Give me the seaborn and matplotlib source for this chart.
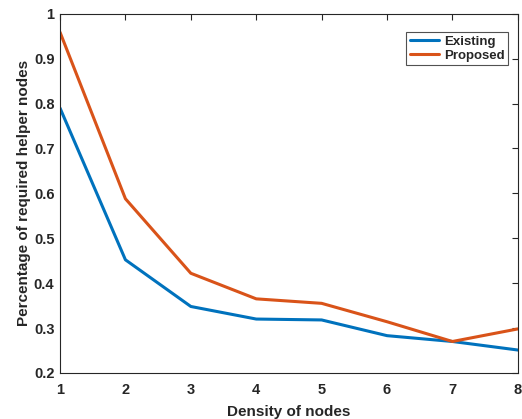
import matplotlib
matplotlib.use("Agg")
import matplotlib.pyplot as plt
import seaborn as sns
import pandas as pd

density = [1, 2, 3, 4, 5, 6, 7, 8]
existing = [0.790, 0.452, 0.348, 0.320, 0.318, 0.283, 0.270, 0.251]
proposed = [0.959, 0.588, 0.422, 0.365, 0.355, 0.314, 0.270, 0.298]

df = pd.DataFrame({
    "Density": density * 2,
    "Value": existing + proposed,
    "Method": ["Existing"] * len(density) + ["Proposed"] * len(density),
})

sns.set_style("white")
plt.rcParams["font.family"] = ["Liberation Sans", "DejaVu Sans"]
plt.rcParams["font.weight"] = "bold"

fig = plt.figure(figsize=(5.22, 4.19), dpi=100)
ax = fig.add_axes([0.115, 0.110, 0.877, 0.857])

sns.lineplot(data=df, x="Density", y="Value", hue="Method",
             palette={"Existing": "#0072BD", "Proposed": "#D95319"},
             linewidth=2.2, ax=ax)

ax.set_xlim(1, 8)
ax.set_ylim(0.2, 1)
ax.set_xticks(density)
ax.set_yticks([0.2, 0.3, 0.4, 0.5, 0.6, 0.7, 0.8, 0.9, 1.0])
ax.set_yticklabels(["0.2", "0.3", "0.4", "0.5", "0.6", "0.7", "0.8", "0.9", "1"])
ax.tick_params(direction="in", top=True, right=True, length=4, width=0.8,
               colors="#262626", labelsize=10.5)
ax.tick_params(axis="x", pad=7)
ax.tick_params(axis="y", pad=4)
for lbl in ax.get_xticklabels() + ax.get_yticklabels():
    lbl.set_fontweight("bold")
for s in ax.spines.values():
    s.set_color("#262626")
    s.set_linewidth(0.8)

ax.set_xlabel("Density of nodes", fontsize=11, fontweight="bold", color="#262626", labelpad=6)
ax.set_ylabel("Percentage of required helper nodes", fontsize=11, fontweight="bold",
              color="#262626", labelpad=2)

leg = ax.legend(loc="upper right", bbox_to_anchor=(0.978, 0.948), fontsize=9.5,
                frameon=True, fancybox=False, edgecolor="#262626",
                handlelength=2.2, borderpad=0.25, labelspacing=0.12, handletextpad=0.4,
                borderaxespad=0, title=None)
leg.get_frame().set_linewidth(0.8)
for t in leg.get_texts():
    t.set_fontweight("bold")

fig.savefig("out.png", dpi=100)
